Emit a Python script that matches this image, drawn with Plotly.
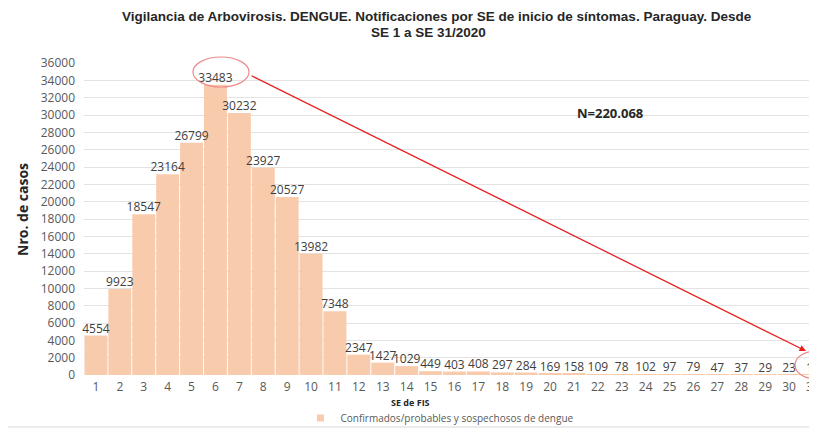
import plotly.graph_objects as go

weeks = list(range(1, 32))
cases = [4554, 9923, 18547, 23164, 26799, 33483, 30232, 23927, 20527, 13982,
         7348, 2347, 1427, 1029, 449, 403, 408, 297, 284, 169,
         158, 109, 78, 102, 97, 79, 47, 37, 29, 23, 13]
series_name = "Confirmados/probables y sospechosos de dengue"
title_line1 = "Vigilancia de Arbovirosis. DENGUE. Notificaciones por SE de inicio de síntomas. Paraguay. Desde"
title_line2 = "SE 1 a SE 31/2020"
total_text = "N=220.068"

OFF = 8  # page offset of the plot div inside the browser window
# reference-pixel geometry (screen coords) of the plot area
REF_L, REF_T, REF_B = 84, 63, 375
UNIT = (817 - 84) / (31.17 - 0.5)   # px per category
REF_R = 840                          # plot continues past the window edge (clipped by window)
W, H = REF_R - OFF, 429 - OFF
ML, MR, MT, MB = REF_L - OFF, 0, REF_T - OFF, H - (REF_B - OFF)
XR = [0.5, 0.5 + (REF_R - REF_L) / UNIT]
YR = [0, 36000]
pw, ph = W - ML - MR, H - MT - MB
BAR_COLOR = "#F8CBAD"

def px_x(px):
    return (px - OFF - ML) / pw

def px_y(py):
    return (H - MB - (py - OFF)) / ph

fig = go.Figure()
fig.add_trace(go.Bar(
    x=weeks, y=cases, name=series_name,
    marker=dict(color=BAR_COLOR, line=dict(width=0)),
    showlegend=False, hoverinfo="x+y",
))
# value labels drawn on top of all bars
fig.add_trace(go.Scatter(
    x=weeks, y=cases, mode="text", text=[str(v) for v in cases],
    textposition="top center",
    textfont=dict(family="Open Sans", size=12, color="#404040"),
    cliponaxis=False, showlegend=False, hoverinfo="skip",
))
# legend entry with small square marker
fig.add_trace(go.Scatter(
    x=[None], y=[None], mode="markers", name=series_name,
    marker=dict(symbol="square", size=7, color=BAR_COLOR),
    showlegend=True,
))

fig.update_layout(
    width=W, height=H,
    margin=dict(l=ML, r=MR, t=MT, b=MB, autoexpand=False),
    paper_bgcolor="white", plot_bgcolor="white",
    bargap=0.04,
    font=dict(family="Open Sans", size=12, color="#595959"),
    xaxis=dict(range=XR, tickmode="array", tickvals=weeks, ticktext=[str(w) for w in weeks],
               showgrid=False, ticks="", ticklabelstandoff=3, showline=False, zeroline=False,
               automargin=False, ticklabeloverflow="allow",
               tickfont=dict(size=12, color="#595959")),
    yaxis=dict(range=YR, dtick=2000, tickformat="d", showgrid=True, gridcolor="#E3E3E3", gridwidth=1,
               zeroline=False, ticks="", automargin=False,
               tickfont=dict(size=12, color="#595959"), ticklabelstandoff=8),
    legend=dict(orientation="h", x=px_x(440), xanchor="center", y=px_y(418), yanchor="middle",
                font=dict(size=10, color="#595959"), bgcolor="rgba(0,0,0,0)",
                itemwidth=30),
)

# Title
fig.add_annotation(text="<b>" + title_line1 + "</b>", xref="paper", yref="paper",
                   x=px_x(437), y=px_y(16), showarrow=False, xanchor="center", yanchor="middle",
                   font=dict(family="Liberation Sans, Arial", size=13.5, color="#262626"))
fig.add_annotation(text="<b>" + title_line2 + "</b>", xref="paper", yref="paper",
                   x=px_x(428), y=px_y(33), showarrow=False, xanchor="center", yanchor="middle",
                   font=dict(family="Liberation Sans, Arial", size=13.5, color="#262626"))
# Y-axis title
fig.add_annotation(text="<b>Nro. de casos</b>", xref="paper", yref="paper",
                   x=px_x(22), y=px_y(210), textangle=-90, showarrow=False,
                   font=dict(size=14, color="#262626"), xanchor="center", yanchor="middle")
# X-axis title
fig.add_annotation(text="<b>SE de FIS</b>", xref="paper", yref="paper",
                   x=px_x(410), y=px_y(403), showarrow=False,
                   font=dict(size=9, color="#262626"), xanchor="center", yanchor="middle")
# N annotation
fig.add_annotation(text="<b>" + total_text + "</b>", xref="paper", yref="paper",
                   x=px_x(610), y=px_y(113), showarrow=False,
                   font=dict(size=13, color="#262626"), xanchor="center", yanchor="middle")

# Ellipse around peak label
fig.add_shape(type="circle", xref="paper", yref="paper",
              x0=px_x(193), x1=px_x(249), y0=px_y(87), y1=px_y(57),
              line=dict(color="#EE8A8A", width=1.2))
# Ellipse around last label
fig.add_shape(type="circle", xref="paper", yref="paper",
              x0=px_x(795), x1=px_x(838), y0=px_y(379), y1=px_y(351),
              line=dict(color="#EE8A8A", width=1.2))
# Arrow
fig.add_annotation(x=px_x(806), y=px_y(351), xref="paper", yref="paper",
                   ax=250 - 806, ay=75 - 351, axref="pixel", ayref="pixel",
                   showarrow=True, arrowhead=2, arrowsize=1, arrowwidth=1.3,
                   arrowcolor="#E8201E", text="")
# bottom border line
fig.add_shape(type="line", xref="paper", yref="paper", x0=px_x(0), x1=px_x(840),
              y0=px_y(427), y1=px_y(427), line=dict(color="#D9D9D9", width=1))

fig.write_html("out.html")
